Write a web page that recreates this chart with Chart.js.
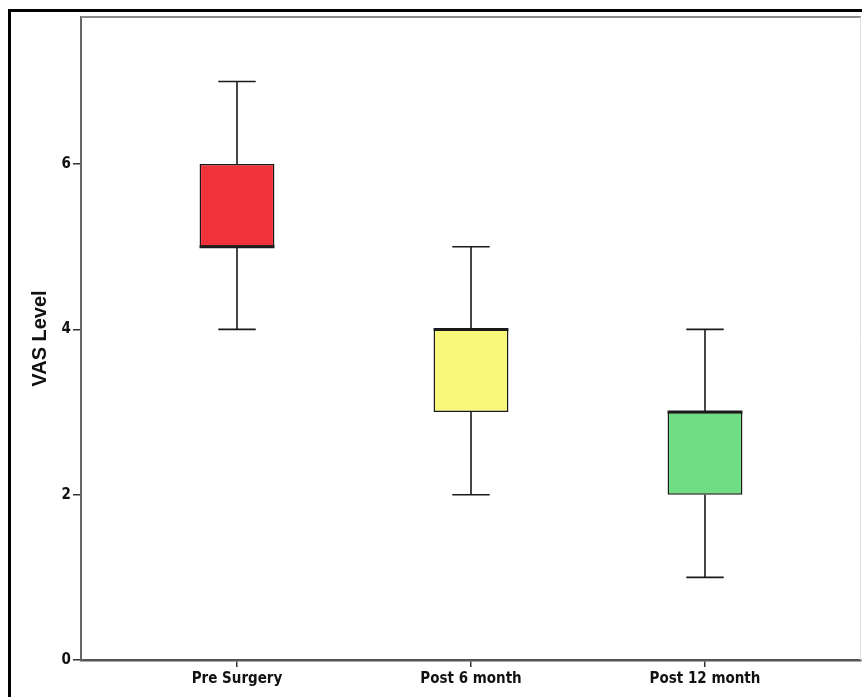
<!DOCTYPE html>
<html>
<head>
<meta charset="utf-8">
<script src="https://cdn.jsdelivr.net/npm/chart.js@4.4.1/dist/chart.umd.min.js"></script>
<style>
  html, body { margin: 0; padding: 0; background: #fff; }
  #wrap { position: relative; width: 862px; height: 697px; }
  #frame {
    position: absolute; left: 8px; top: 9px; right: -4px; bottom: -4px;
    border-left: 3px solid #000; border-top: 3px solid #000;
    pointer-events: none;
  }
</style>
</head>
<body>
<div id="wrap">
  <canvas id="vasChart" width="862" height="697"></canvas>
  <div id="frame"></div>
</div>
<script>
// Box plot data
const categories = ['Pre Surgery', 'Post 6 month', 'Post 12 month'];
const positions = [1, 2, 3];
const minValues = [4, 2, 1];
const q1Values = [5, 3, 2];
const medianValues = [5, 4, 3];
const q3Values = [6, 4, 3];
const maxValues = [7, 5, 4];
const yTicks = [0, 2, 4, 6];
const boxColors = ['#f2323a', '#faf87a', '#6edd84'];

const tickFont = { family: "'DejaVu Sans Condensed', 'DejaVu Sans', sans-serif", size: 15, weight: 'bold' };

// whiskers, caps and median lines
const boxPlotExtras = {
    id: 'boxPlotExtras',
    afterDatasetsDraw(chart) {
        const ctx = chart.ctx;
        const x = chart.scales.x;
        const y = chart.scales.y;
        const meta = chart.getDatasetMeta(0);
        ctx.save();
        ctx.strokeStyle = '#1a1a1a';
        positions.forEach((p, i) => {
            const cx = x.getPixelForValue(p);
            const boxW = meta.data[i].width;
            const capW = boxW / 2;
            ctx.lineWidth = 1.6;
            ctx.beginPath();
            ctx.moveTo(cx, y.getPixelForValue(q3Values[i]));
            ctx.lineTo(cx, y.getPixelForValue(maxValues[i]));
            ctx.moveTo(cx, y.getPixelForValue(q1Values[i]));
            ctx.lineTo(cx, y.getPixelForValue(minValues[i]));
            ctx.moveTo(cx - capW / 2, y.getPixelForValue(maxValues[i]));
            ctx.lineTo(cx + capW / 2, y.getPixelForValue(maxValues[i]));
            ctx.moveTo(cx - capW / 2, y.getPixelForValue(minValues[i]));
            ctx.lineTo(cx + capW / 2, y.getPixelForValue(minValues[i]));
            ctx.stroke();
            ctx.lineWidth = 3;
            ctx.beginPath();
            ctx.moveTo(cx - boxW / 2, y.getPixelForValue(medianValues[i]));
            ctx.lineTo(cx + boxW / 2, y.getPixelForValue(medianValues[i]));
            ctx.stroke();
        });
        // top and right edge of the plot frame
        const a = chart.chartArea;
        ctx.strokeStyle = '#8a8a8a';
        ctx.lineWidth = 2;
        ctx.beginPath();
        ctx.moveTo(a.left, a.top);
        ctx.lineTo(a.right, a.top);
        ctx.stroke();
        ctx.strokeStyle = '#dddddd';
        ctx.lineWidth = 1;
        ctx.beginPath();
        ctx.moveTo(a.right - 0.5, a.top);
        ctx.lineTo(a.right - 0.5, a.bottom);
        ctx.stroke();
        ctx.restore();
    }
};

const ctx = document.getElementById('vasChart').getContext('2d');
const vasChart = new Chart(ctx, {
    type: 'bar',
    data: {
        datasets: [{
            data: positions.map((p, i) => ({ x: p, y: [q1Values[i], q3Values[i]] })),
            backgroundColor: boxColors,
            borderColor: '#1a1a1a',
            borderWidth: 1.5,
            borderSkipped: false,
            barPercentage: 0.32,
            categoryPercentage: 1
        }]
    },
    options: {
        responsive: false,
        animation: false,
        layout: { padding: { left: 0, right: 1, top: 17, bottom: 0 } },
        plugins: { legend: { display: false }, tooltip: { enabled: false } },
        scales: {
            x: {
                type: 'linear',
                offset: false,
                min: 1 / 3,
                max: 11 / 3,
                afterBuildTicks: (scale) => { scale.ticks = positions.map(v => ({ value: v })); },
                afterFit: (scale) => { scale.height = 37; },
                ticks: {
                    color: '#111',
                    font: tickFont,
                    padding: 3,
                    maxRotation: 0,
                    callback: (v) => categories[positions.indexOf(v)] || ''
                },
                grid: { offset: false, drawOnChartArea: false, drawTicks: true, tickLength: 7, color: '#333', lineWidth: 1.5 },
                border: { display: true, color: '#555', width: 2.5 }
            },
            y: {
                min: 0,
                max: 7.78,
                afterBuildTicks: (scale) => { scale.ticks = yTicks.map(v => ({ value: v })); },
                afterFit: (scale) => { scale.width = 81; },
                ticks: { color: '#111', font: tickFont, padding: 2 },
                grid: { drawOnChartArea: false, drawTicks: true, tickLength: 8, color: '#333', lineWidth: 1.5 },
                border: { display: true, color: '#666', width: 2 },
                title: {
                    display: true,
                    text: 'VAS Level',
                    color: '#111',
                    font: { family: "'Liberation Sans', Arial, sans-serif", size: 20, weight: 'bold' },
                    padding: { top: 28, bottom: 0 }
                }
            }
        }
    },
    plugins: [boxPlotExtras]
});
</script>
</body>
</html>
